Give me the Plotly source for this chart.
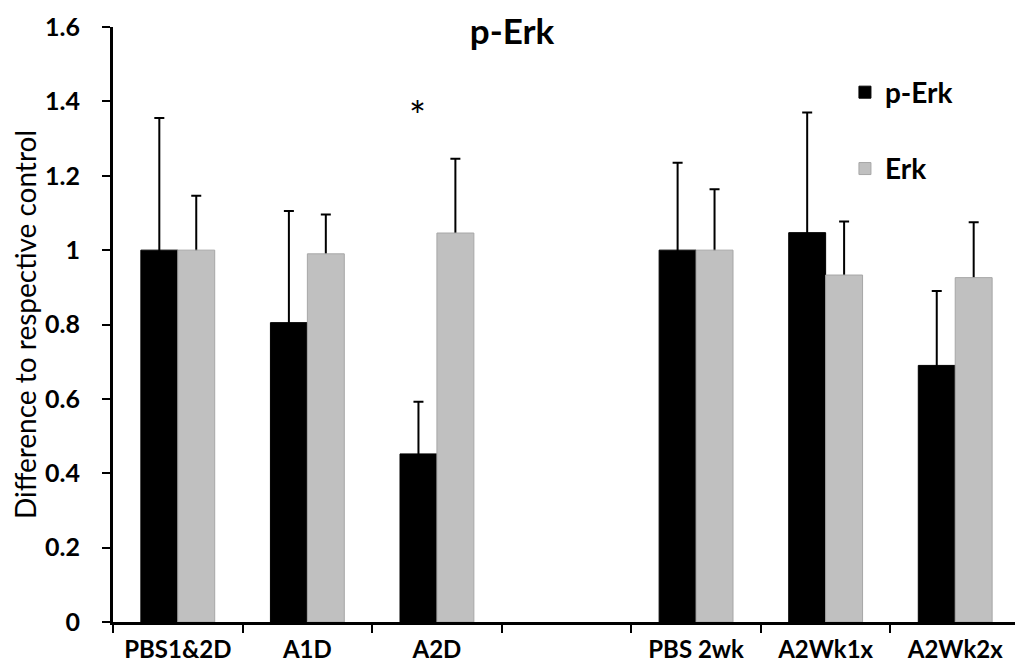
import plotly.graph_objects as go

categories = ["PBS1&2D", "A1D", "A2D", " ", "PBS 2wk", "A2Wk1x", "A2Wk2x"]
perk_values = [1.0, 0.805, 0.452, None, 1.0, 1.047, 0.69]
perk_errors = [0.355, 0.30, 0.14, None, 0.235, 0.323, 0.20]
erk_values = [1.0, 0.99, 1.046, None, 1.0, 0.933, 0.926]
erk_errors = [0.146, 0.106, 0.20, None, 0.164, 0.144, 0.149]
series_names = ["p-Erk", "Erk"]
y_ticks = [0, 0.2, 0.4, 0.6, 0.8, 1.0, 1.2, 1.4, 1.6]
star_category = "A2D"
star_value = 1.36

FONT = "Lato"
colors = ["#000000", "#C0C0C0"]
edge = ["#000000", "#A6A6A6"]

fig = go.Figure()

# error-bar carriers (invisible bars sharing slots), drawn beneath the visible bars
for i, (vals, errs) in enumerate([(perk_values, perk_errors), (erk_values, erk_errors)]):
    minus = [None if v is None else min(0.05, v) for v in vals]
    fig.add_trace(go.Bar(
        x=categories, y=vals, offsetgroup=str(i), showlegend=False, hoverinfo="skip",
        marker=dict(color="rgba(0,0,0,0)", line=dict(width=0)),
        error_y=dict(type="data", symmetric=False, array=errs, arrayminus=minus,
                     color="black", thickness=2, width=5),
    ))

for i, (name, vals) in enumerate(zip(series_names, [perk_values, erk_values])):
    fig.add_trace(go.Bar(
        x=categories, y=vals, name=name, offsetgroup=str(i), legendgroup=name,
        marker=dict(color=colors[i], line=dict(color=edge[i], width=1)),
    ))

fig.add_annotation(x=star_category, y=star_value, text="*", showarrow=False,
                   xshift=-19, font=dict(family=FONT, size=40, color="black"))

fig.update_layout(
    width=1015, height=658,
    margin=dict(l=105, r=3, t=15, b=41),
    paper_bgcolor="white", plot_bgcolor="white",
    barmode="group", bargap=0.43, bargroupgap=0,
    title=dict(text="<b>p-Erk</b>", x=0.4966, xref="container", xanchor="center",
               y=0.964, yref="container", yanchor="middle",
               font=dict(family=FONT, size=35, color="black")),
    font=dict(family=FONT, color="black"),
    legend=dict(x=0.807, y=0.932, xanchor="left", yanchor="top",
                font=dict(family=FONT, size=28, color="black", weight="bold"),
                traceorder="grouped", tracegroupgap=37, bgcolor="rgba(0,0,0,0)"),
    showlegend=True,
)
fig.update_xaxes(
    type="category", categoryorder="array", categoryarray=categories,
    showline=True, linecolor="black", linewidth=3,
    ticks="outside", tickson="boundaries", ticklen=8, tickwidth=2, tickcolor="black",
    tickfont=dict(family=FONT, size=24, color="black", weight="bold"),
    showgrid=False, zeroline=False, ticklabelstandoff=4,
)
fig.update_yaxes(
    range=[0, 1.6], tickvals=y_ticks, ticktext=[f"{v:g}" for v in y_ticks],
    showline=True, linecolor="black", linewidth=3,
    ticks="outside", ticklen=8, tickwidth=2, tickcolor="black",
    tickfont=dict(family=FONT, size=25, color="black", weight="bold"),
    showgrid=False, zeroline=False, ticklabelstandoff=17, ticklabeloverflow="allow",
    title=dict(text="Difference to respective control", standoff=8,
               font=dict(family=FONT, size=28, color="black")),
)

fig.write_html("out.html")
